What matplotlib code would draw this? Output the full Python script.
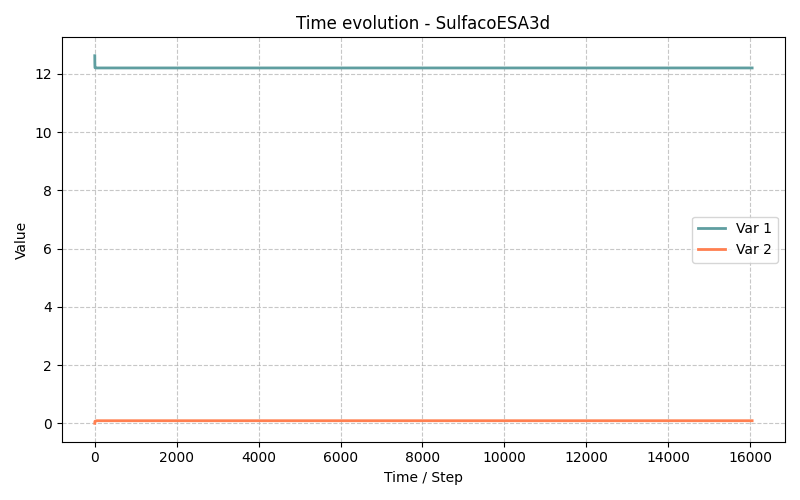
import numpy as np
import matplotlib
matplotlib.use("Agg")
import matplotlib.pyplot as plt

# values
steps = [0, 2, 5, 20, 50, 100, 1000, 4000, 8000, 12000, 16050]
var1 = [12.62, 12.35, 12.21, 12.2, 12.2, 12.2, 12.2, 12.2, 12.2, 12.2, 12.2]
var2 = [0.0, 0.04, 0.07, 0.08, 0.09, 0.09, 0.09, 0.09, 0.09, 0.09, 0.09]

fig, ax = plt.subplots(figsize=(8, 5), dpi=100)
ax.plot(steps, var1, color='#5F9EA0', linewidth=2, label='Var 1')
ax.plot(steps, var2, color='#FF7F50', linewidth=2, label='Var 2')

ax.set_title("Time evolution - SulfacoESA3d")
ax.set_xlabel("Time / Step")
ax.set_ylabel("Value")
ax.grid(True, linestyle='--', alpha=0.7)
ax.legend(loc='center right')
plt.tight_layout()
plt.savefig('out.png')
